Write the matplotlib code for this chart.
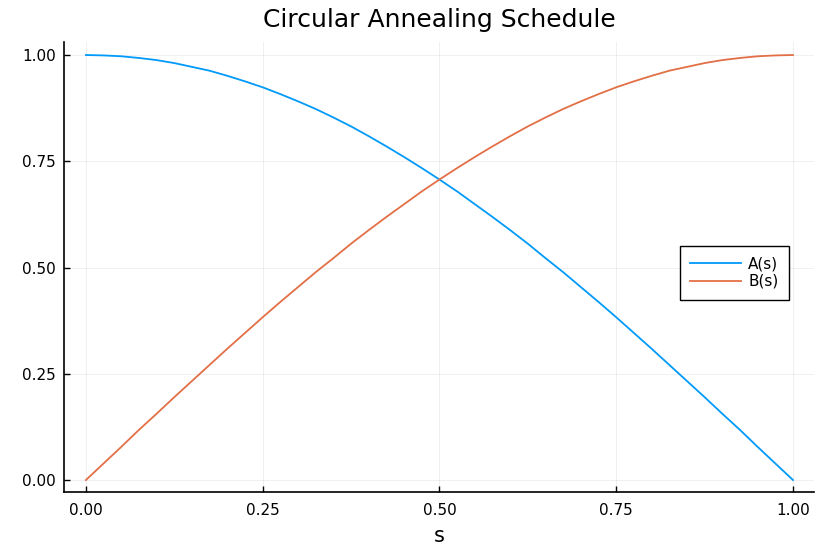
import matplotlib
matplotlib.use("Agg")
import matplotlib.pyplot as plt

# values
s = [0.0, 0.025, 0.05, 0.075, 0.1, 0.125, 0.15, 0.175, 0.2, 0.225,
     0.25, 0.275, 0.3, 0.325, 0.35, 0.375, 0.4, 0.425, 0.45, 0.475,
     0.5, 0.525, 0.55, 0.575, 0.6, 0.625, 0.65, 0.675, 0.7, 0.725,
     0.75, 0.775, 0.8, 0.825, 0.85, 0.875, 0.9, 0.925, 0.95, 0.975, 1.0]
a_vals = [1.0, 0.999, 0.997, 0.993, 0.988, 0.981, 0.972, 0.963, 0.951, 0.938,
          0.924, 0.908, 0.891, 0.873, 0.853, 0.832, 0.809, 0.785, 0.760, 0.734,
          0.707, 0.679, 0.649, 0.619, 0.588, 0.556, 0.522, 0.489, 0.454, 0.419,
          0.383, 0.346, 0.309, 0.271, 0.233, 0.195, 0.156, 0.118, 0.078, 0.039, 0.0]
b_vals = [0.0, 0.039, 0.078, 0.118, 0.156, 0.195, 0.233, 0.271, 0.309, 0.346,
          0.383, 0.419, 0.454, 0.489, 0.522, 0.556, 0.588, 0.619, 0.649, 0.679,
          0.707, 0.734, 0.760, 0.785, 0.809, 0.832, 0.853, 0.873, 0.891, 0.908,
          0.924, 0.938, 0.951, 0.963, 0.972, 0.981, 0.988, 0.993, 0.997, 0.999, 1.0]
ticks = [0.0, 0.25, 0.5, 0.75, 1.0]
tick_labels = ["0.00", "0.25", "0.50", "0.75", "1.00"]

plt.rcParams['font.family'] = ['DejaVu Sans']

fig = plt.figure(figsize=(8.3, 5.54), dpi=100)
ax = fig.add_axes([0.0771, 0.1119, 0.9036, 0.8123])

ax.plot(s, a_vals, color='#009AFA', lw=1.3, label='A(s)')
ax.plot(s, b_vals, color='#E26F46', lw=1.3, label='B(s)')

ax.set_xlim(-0.031, 1.0297)
ax.set_ylim(-0.0282, 1.0306)
ax.set_xticks(ticks)
ax.set_xticklabels(tick_labels)
ax.set_yticks(ticks)
ax.set_yticklabels(tick_labels)
ax.tick_params(direction='in', length=4, width=1, labelsize=11, colors='black')
ax.tick_params(axis='x', pad=8)
ax.tick_params(axis='y', pad=6)
ax.grid(True, color='black', alpha=0.07, lw=0.6)

for side in ['top', 'right']:
    ax.spines[side].set_visible(False)
for side in ['left', 'bottom']:
    ax.spines[side].set_linewidth(1.2)

ax.set_xlabel('s', fontsize=15, labelpad=6)
ax.set_title('Circular Annealing Schedule', fontsize=18, pad=11)

leg = ax.legend(loc='center right', bbox_to_anchor=(0.967, 0.487), fontsize=11,
                fancybox=False, framealpha=1, edgecolor='black',
                handlelength=3.3, borderpad=0.7, labelspacing=0.15, handletextpad=0.5,
                borderaxespad=0.0)
leg.get_frame().set_linewidth(1.0)

fig.savefig('out.png', dpi=100)
